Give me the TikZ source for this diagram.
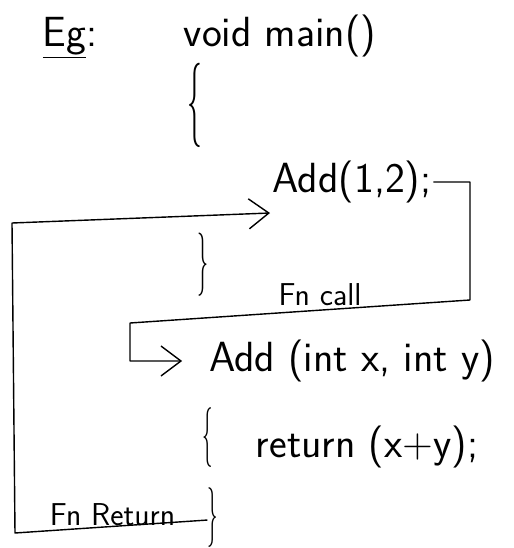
\documentclass[tikz,border=0pt]{standalone}
\usepackage{fontspec}
\usetikzlibrary{arrows.meta,positioning}

\begin{document}
\begin{tikzpicture}[
    code/.style={font=\sffamily\fontsize{24}{28}\selectfont, inner sep=1pt},
    brace/.style={font=\sffamily\fontsize{#1}{#1}\selectfont, inner sep=0pt},
    note/.style={font=\sffamily\fontsize{18}{20}\selectfont, inner sep=1pt},
    flow/.style={thick, line join=round},
    arrow/.style={flow, -{Straight Barb[length=4mm,width=6mm]}}
]
    \useasboundingbox (0,0) rectangle (10.28,-10.96);

    % calling side
    \node[code] (eg) at (1.4,-0.76) {\underline{Eg}:};
    \node[code] (mainsig) at (5.6,-0.72) {void main()};
    \node[brace=48] (open1) at (3.9,-2.1) {\scalebox{.35}[1]{\{}};
    \node[code] (call) at (7.04,-3.64) {Add(1,2);};
    \node[brace=36] (close1) at (4.06,-5.3) {\scalebox{.35}[1]{\}}};

    % called side
    \node[code] (addsig) at (7.04,-7.22) {Add (int x, int y)};
    \node[brace=34] (open2) at (4.16,-8.76) {\scalebox{.35}[1]{\{}};
    \node[code] (ret) at (7.34,-8.94) {return (x+y);};
    \node[brace=34] (close2) at (4.26,-10.36) {\scalebox{.35}[1]{\}}};

    % labels on the paths
    \node[note] (fncall) at (6.4,-5.9) {Fn call};
    \node[note] (fnret) at (2.25,-10.3) {Fn Return};

    % corners
    \coordinate (callR) at (9.4,-3.64);
    \coordinate (callD) at (9.4,-6.0);
    \coordinate (callL) at (2.6,-6.46);
    \coordinate (retB) at (0.3,-10.66);
    \coordinate (retT) at (0.24,-4.46);
    \coordinate (back) at (5.4,-4.26);

    \draw[arrow] (call.east) -- (callR) -- (callD) -- (callL) |- ([xshift=-5mm]addsig.west);
    \draw[arrow] (close2.200) -- (retB) -- (retT) -- (back);
\end{tikzpicture}
\end{document}
